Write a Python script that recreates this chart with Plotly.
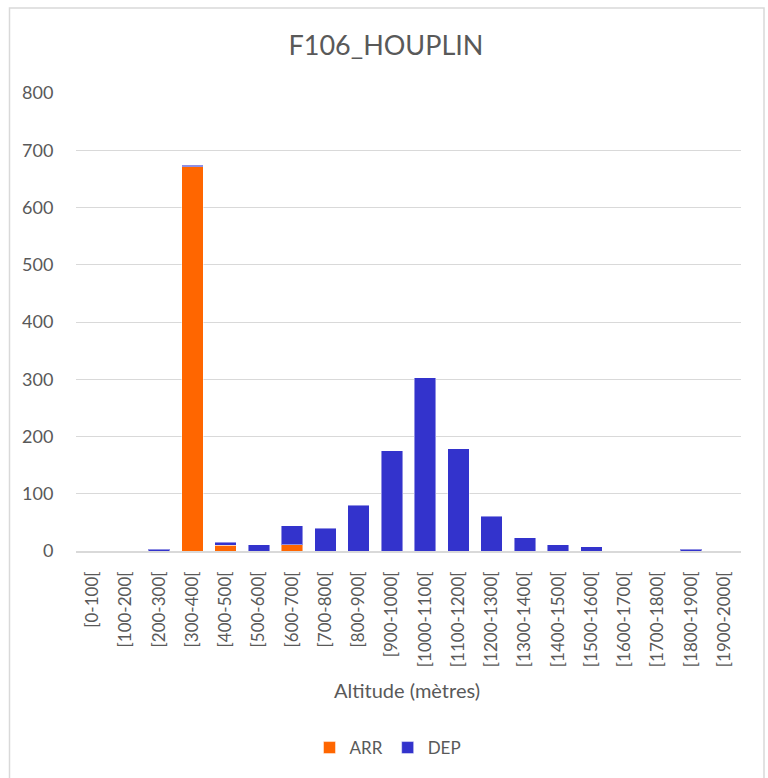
import plotly.graph_objects as go

categories = ["[0-100[", "[100-200[", "[200-300[", "[300-400[", "[400-500[",
              "[500-600[", "[600-700[", "[700-800[", "[800-900[", "[900-1000[",
              "[1000-1100[", "[1100-1200[", "[1200-1300[", "[1300-1400[",
              "[1400-1500[", "[1500-1600[", "[1600-1700[", "[1700-1800[",
              "[1800-1900[", "[1900-2000["]
arr_values = [0, 0, 0, 671, 10, 0, 11, 0, 0, 0, 0, 0, 0, 0, 0, 0, 0, 0, 0, 0]
dep_values = [0, 0, 3, 3, 5, 11, 33, 40, 80, 175, 303, 179, 61, 23, 11, 7, 0, 0, 3, 0]
y_ticks = [0, 100, 200, 300, 400, 500, 600, 700, 800]

W, H = 768, 778
L, R, T, B = 76, 741, 93, 551   # plot area in pixels
pw, ph = R - L, B - T

def px(x):
    return (x - L) / pw

def py(y):
    return (B - y) / ph

grey = "#595959"
font = "Lato, 'Open Sans', sans-serif"
edge = dict(color="rgba(255,255,255,0.45)", width=1)

fig = go.Figure()
fig.add_trace(go.Bar(x=categories, y=arr_values, name="ARR",
                     marker=dict(color="#FF6600", line=edge)))
fig.add_trace(go.Bar(x=categories, y=dep_values, name="DEP",
                     marker=dict(color="#3333CC", line=edge)))

fig.update_layout(
    width=W, height=H,
    margin=dict(l=L, r=W - R, t=T, b=H - B, pad=0),
    barmode="stack", bargap=0.35,
    paper_bgcolor="white", plot_bgcolor="white",
    font=dict(family=font, color=grey, size=16),
    title=dict(text="F106_HOUPLIN", x=386 / W, xref="container", xanchor="center",
               y=1 - 46 / H, yref="container", yanchor="middle",
               font=dict(size=27, color=grey, family=font)),
    xaxis=dict(tickangle=-90, showgrid=False, showline=True, linecolor="#D9D9D9",
               linewidth=1.5, ticks="outside", ticklen=12,
               tickcolor="rgba(0,0,0,0)",
               tickfont=dict(size=17, color=grey), fixedrange=True),
    yaxis=dict(range=[0, 800], tickvals=y_ticks, showgrid=True, gridcolor="#D9D9D9",
               gridwidth=1, zeroline=False, showline=False, ticks="outside",
               ticklen=18, tickcolor="rgba(0,0,0,0)",
               tickfont=dict(size=18, color=grey), fixedrange=True),
    legend=dict(orientation="h", x=px(388), xanchor="center", y=py(748),
                yanchor="middle", font=dict(size=17, color=grey),
                itemwidth=30, traceorder="normal"),
    showlegend=True,
    shapes=[dict(type="rect", xref="paper", yref="paper",
                 x0=px(9.5), x1=px(764), y0=py(780), y1=py(8),
                 line=dict(color="#D9D9D9", width=1.5), layer="below")],
    annotations=[dict(text="Altitude (mètres)", xref="paper", yref="paper",
                      x=px(407), y=py(690), xanchor="center", yanchor="middle",
                      showarrow=False, font=dict(size=20, color=grey))],
)

fig.write_html("out.html", config={"displayModeBar": False})
